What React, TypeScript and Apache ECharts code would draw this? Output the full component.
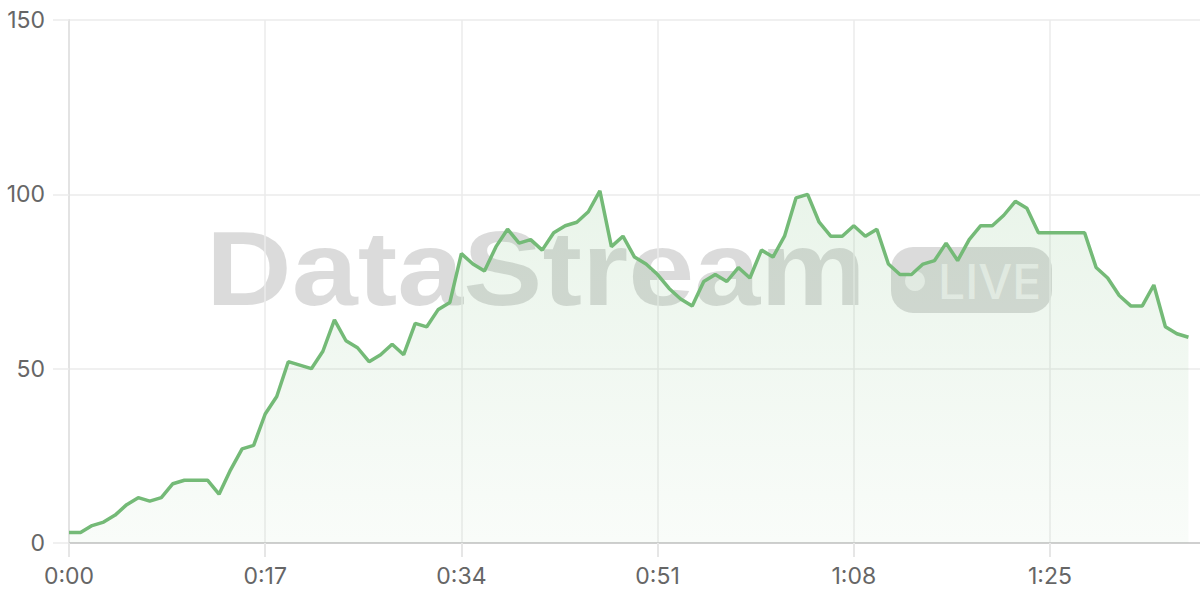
import React, { useEffect, useRef } from "react";
import * as echarts from "echarts";

const seconds: string[] = Array.from({ length: 99 }, (_, i) => String(i));
const values: number[] = [
  3, 3, 5, 6, 8, 11, 13, 12, 13, 17,
  18, 18, 18, 14, 21, 27, 28, 37, 42, 52,
  51, 50, 55, 64, 58, 56, 52, 54, 57, 54,
  63, 62, 67, 69, 83, 80, 78, 85, 90, 86,
  87, 84, 89, 91, 92, 95, 101, 85, 88, 82,
  80, 77, 73, 70, 68, 75, 77, 75, 79, 76,
  84, 82, 88, 99, 100, 92, 88, 88, 91, 88,
  90, 80, 77, 77, 80, 81, 86, 81, 87, 91,
  91, 94, 98, 96, 89, 89, 89, 89, 89, 79,
  76, 71, 68, 68, 74, 62, 60, 59,
];
const yTicks = [0, 50, 100, 150];

function fmt(v: string | number): string {
  const s = Number(v);
  const m = Math.floor(s / 60);
  const r = s % 60;
  return `${m}:${r < 10 ? "0" + r : r}`;
}

export default function App() {
  const ref = useRef<HTMLDivElement>(null);
  useEffect(() => {
    if (!ref.current) return;
    const chart = echarts.init(ref.current, undefined, { renderer: "svg" });
    const labelFont = { color: "#666", fontSize: 23, fontFamily: "Inter" };
    chart.setOption({
      animation: false,
      grid: { left: 69, right: 0, top: 20, bottom: 57 },
      xAxis: {
        type: "category",
        data: seconds,
        boundaryGap: false,
        axisLine: { show: true, lineStyle: { color: "#cfcfcf", width: 2 } },
        axisTick: { show: true, length: 14, interval: 16, lineStyle: { color: "#e6e6e6", width: 2 } },
        axisLabel: { ...labelFont, interval: 16, margin: 21, formatter: (v: string) => fmt(v) },
        splitLine: { show: true, interval: 16, lineStyle: { color: "#ebebeb", width: 1.5 } },
      },
      yAxis: {
        type: "value",
        min: yTicks[0],
        max: yTicks[yTicks.length - 1],
        interval: 50,
        axisLine: { show: true, lineStyle: { color: "#e3e3e3", width: 2 } },
        axisTick: { show: true, length: 16, lineStyle: { color: "#ebebeb", width: 1.5 } },
        axisLabel: { ...labelFont, margin: 24 },
        splitLine: { show: true, lineStyle: { color: "#ebebeb", width: 1.5 } },
      },
      graphic: [
        {
          type: "group",
          z: 1,
          silent: true,
          children: [
            {
              type: "text",
              x: 206,
              y: 268,
              scaleX: 1.12,
              style: {
                text: "DataStream",
                x: 0,
                y: 0,
                fill: "rgba(0,0,0,0.14)",
                font: 'bold 106px "Liberation Sans"',
                textAlign: "left",
                textVerticalAlign: "middle",
              },
            },
            {
              type: "rect",
              shape: { x: 891, y: 247, width: 161, height: 66, r: 22 },
              style: { fill: "rgba(0,0,0,0.14)" },
            },
            {
              type: "circle",
              shape: { cx: 915, cy: 281, r: 10 },
              style: { fill: "rgba(255,255,255,0.6)" },
            },
            {
              type: "text",
              style: {
                text: "LIVE",
                x: 938,
                y: 281,
                fill: "rgba(255,255,255,0.6)",
                font: '500 48px "Inter"',
                textAlign: "left",
                textVerticalAlign: "middle",
              },
            },
          ],
        },
      ],
      series: [
        {
          type: "line",
          data: values,
          showSymbol: false,
          z: 3,
          lineStyle: { color: "#74ba77", width: 3.5 },
          areaStyle: {
            color: new echarts.graphic.LinearGradient(0, 0, 0, 1, [
              { offset: 0, color: "rgba(114,185,117,0.22)" },
              { offset: 1, color: "rgba(114,185,117,0.06)" },
            ]),
            origin: "start",
          },
        },
      ],
    });
    return () => chart.dispose();
  }, []);
  return (
    <div
      ref={ref}
      style={{ position: "fixed", left: 0, top: 0, width: 1200, height: 600, background: "#fff" }}
    />
  );
}
